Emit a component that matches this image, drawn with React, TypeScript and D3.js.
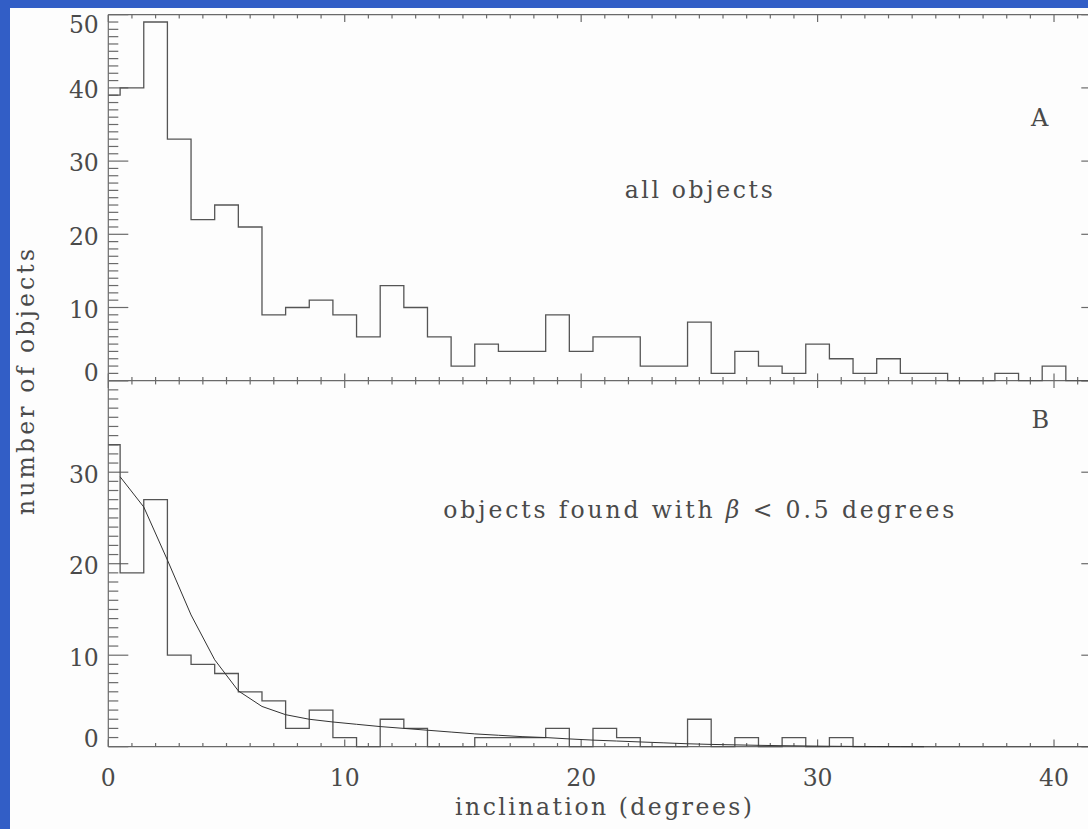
import React from 'react';
import * as d3 from 'd3';

// ---- data ----
const inclinationBins = [0,1,2,3,4,5,6,7,8,9,10,11,12,13,14,15,16,17,18,19,20,21,22,23,24,25,26,27,28,29,30,31,32,33,34,35,36,37,38,39,40,41];
const allObjects = [39,40,49,33,22,24,21,9,10,11,9,6,13,10,6,2,5,4,4,9,4,6,6,2,2,8,1,4,2,1,5,3,1,3,1,1,0,0,1,0,2,0];
const lowBetaObjects = [33,19,27,10,9,8,6,5,2,4,1,0,3,2,0,0,1,1,1,2,0,2,1,0,0,3,0,1,0,1,0,1,0,0,0,0,0,0,0,0,0,0];
const fitX = [0.5,1.5,2.5,3.5,4.5,5.5,6.5,7.5,8.5,9.5,10.5,11.5,12.5,13.5,14.5,15.5,16.5,17.5,18.5,19.5,20.5,21.5,22.5,23.5,24.5,25.5,26.5,27.5,28.5,29.5,30.5,31.5,32.5,33.5,34.5];
const fitY = [29.5,26.2,20.4,14.4,9.5,6.1,4.4,3.5,3.0,2.7,2.45,2.2,2.0,1.8,1.6,1.4,1.25,1.1,1.0,0.85,0.72,0.62,0.52,0.42,0.32,0.25,0.2,0.15,0.11,0.08,0.05,0.03,0.02,0.01,0.0];
const xTickLabels = [0,10,20,30,40];
const topYTickLabels = [0,10,20,30,40,50];
const bottomYTickLabels = [0,10,20,30];

const X_MAX = 42;
const TOP_MAX = 50;
const BOTTOM_MAX = 40;

const FONT = '"DejaVu Serif", serif';
const TEXT = '#4a4a4a';
const AXIS = '#6a6a6a';
const LINE = '#555555';

export default function App() {
  const W = 1088, H = 829;
  const left = 108.3, right = 1101.3;
  const topY = 14.7, midY = 380.7, botY = 746.7;

  const x = d3.scaleLinear().domain([0, X_MAX]).range([left, right]);
  const yTop = d3.scaleLinear().domain([0, TOP_MAX]).range([midY, topY]);
  const yBot = d3.scaleLinear().domain([0, BOTTOM_MAX]).range([botY, midY]);

  const stepPath = (vals: number[], y: d3.ScaleLinear<number, number>) => {
    const pts: [number, number][] = inclinationBins.map((b, i) => [Math.max(0, b - 0.5), vals[i]]);
    pts.push([X_MAX, vals[vals.length - 1]]);
    return d3.line<[number, number]>().x(d => x(d[0])).y(d => y(d[1])).curve(d3.curveStepAfter)(pts) || '';
  };
  const fitPath = d3.line<number>().x((d, i) => x(fitX[i])).y(d => yBot(d))(fitY) || '';

  const xMinor = d3.range(0, X_MAX + 1, 1);
  const yLenMajor = 20, yLenMinor = 10, xLenMajor = 7.3, xLenMinor = 3.7;

  const ticks: JSX.Element[] = [];
  xMinor.forEach(v => {
    const major = v % 10 === 0;
    const L = major ? xLenMajor : xLenMinor;
    const px = x(v);
    ticks.push(<line key={'xt' + v} x1={px} x2={px} y1={topY} y2={topY + L} />);
    ticks.push(<line key={'xm' + v} x1={px} x2={px} y1={midY - L} y2={midY + L} />);
    ticks.push(<line key={'xb' + v} x1={px} x2={px} y1={botY} y2={botY - L} />);
  });
  d3.range(0, TOP_MAX + 1, 1).forEach(v => {
    const major = v % 10 === 0;
    const L = major ? yLenMajor : yLenMinor;
    const py = yTop(v);
    ticks.push(<line key={'ylt' + v} x1={left} x2={left + L} y1={py} y2={py} />);
    ticks.push(<line key={'yrt' + v} x1={right} x2={right - L} y1={py} y2={py} />);
  });
  d3.range(0, BOTTOM_MAX + 1, 1).forEach(v => {
    const major = v % 10 === 0;
    const L = major ? yLenMajor : yLenMinor;
    const py = yBot(v);
    ticks.push(<line key={'ylb' + v} x1={left} x2={left + L} y1={py} y2={py} />);
    ticks.push(<line key={'yrb' + v} x1={right} x2={right - L} y1={py} y2={py} />);
  });

  const yLabelBaseline = (py: number, top: number, bottom: number) =>
    Math.min(Math.max(py + 10.3, top + 18.6), bottom);

  return (
    <svg width={W} height={H} style={{ position: 'absolute', left: 0, top: 0 }}>
      <rect x={0} y={0} width={W} height={H} fill="#fdfdfd" />
      <rect x={0} y={0} width={10} height={H} fill="rgb(50,94,198)" />
      <rect x={0} y={0} width={W} height={8} fill="rgb(50,94,198)" />

      <g stroke={AXIS} strokeWidth={1.2} fill="none">
        <line x1={left} x2={left} y1={topY} y2={botY} />
        <line x1={right} x2={right} y1={topY} y2={botY} />
        <line x1={left} x2={right} y1={topY} y2={topY} />
        <line x1={left} x2={right} y1={midY} y2={midY} />
        <line x1={left} x2={right} y1={botY} y2={botY} />
        {ticks}
      </g>

      <path d={stepPath(allObjects, yTop)} fill="none" stroke={LINE} strokeWidth={1.3} />
      <path d={stepPath(lowBetaObjects, yBot)} fill="none" stroke={LINE} strokeWidth={1.3} />
      <path d={fitPath} fill="none" stroke="#333" strokeWidth={1} />

      <g fontFamily={FONT} fontSize={23.5} fill={TEXT}>
        {topYTickLabels.map(v => (
          <text key={'tl' + v} x={98.8} y={yLabelBaseline(yTop(v), topY, midY)} textAnchor="end">{v}</text>
        ))}
        {bottomYTickLabels.map(v => (
          <text key={'bl' + v} x={98.8} y={yLabelBaseline(yBot(v), midY, botY)} textAnchor="end">{v}</text>
        ))}
        {xTickLabels.map(v => (
          <text key={'xl' + v} x={x(v)} y={785.7} textAnchor="middle">{v}</text>
        ))}
        <text x={624.7} y={198.3} textLength={148} lengthAdjust="spacing">all objects</text>
        <text x={1031} y={126} fontSize={24}>A</text>
        <text x={1031.5} y={427.7} fontSize={24}>B</text>
        <text x={443.3} y={518.3} textLength={511} lengthAdjust="spacing">
          objects found with <tspan fontStyle="italic">β</tspan> &lt; 0.5 degrees
        </text>
        <text x={603.5} y={815} textAnchor="middle" textLength={297} lengthAdjust="spacing">inclination (degrees)</text>
        <text transform="translate(34,382) rotate(-90)" textAnchor="middle" textLength={266} lengthAdjust="spacing">number of objects</text>
      </g>
    </svg>
  );
}
